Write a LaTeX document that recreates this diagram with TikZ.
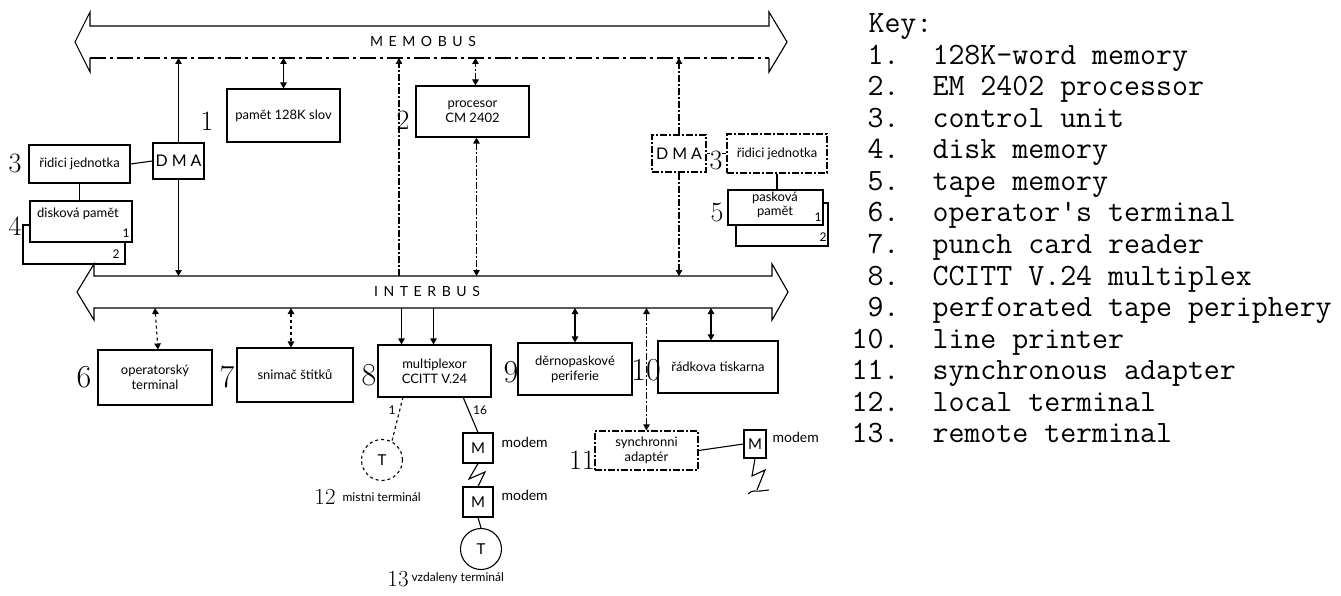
\documentclass[tikz,border=0pt]{standalone}
\usepackage{fontspec}
\setsansfont{Lato}
\newfontfamily\spacedfont[LetterSpace=40]{Lato}
\newfontfamily\dmafont[LetterSpace=25]{Lato}
\usetikzlibrary{arrows.meta}
\begin{document}
\begin{tikzpicture}[x=1pt,y=-1pt, line width=1.1pt,
  >={Triangle[length=6pt,width=6.5pt]},
  box/.style={draw, inner sep=2pt, align=center, font=\sffamily\fontsize{13}{15}\selectfont},
  dbox/.style={box, dash pattern=on 7pt off 2pt on 2pt off 2pt},
  boxtext/.style={inner sep=0pt, align=center, font=\sffamily\fontsize{13}{15}\selectfont},
  num/.style={inner sep=0pt, font=\rmfamily\fontsize{28}{28}\selectfont},
  bignum/.style={inner sep=0pt, font=\rmfamily\fontsize{32}{32}\selectfont},
  smallnum/.style={inner sep=0pt, font=\rmfamily\fontsize{23}{23}\selectfont},
  idx/.style={inner sep=0pt, font=\sffamily\fontsize{12}{12}\selectfont},
  lbl/.style={inner sep=0pt, font=\sffamily\fontsize{12}{14}\selectfont},
  modlbl/.style={inner sep=0pt, anchor=west, font=\sffamily\fontsize{14}{14}\selectfont},
  buslabel/.style={inner sep=0pt, font=\spacedfont\fontsize{14}{14}\selectfont},
  mbox/.style={draw, inner sep=0pt, minimum width=30pt, minimum height=30pt, font=\sffamily\fontsize{15}{15}\selectfont},
  tcirc/.style={draw, circle, inner sep=0pt, minimum size=41pt, font=\sffamily\fontsize{15}{15}\selectfont},
  dd/.style={dash pattern=on 7pt off 2pt on 2pt off 2pt},
  keytext/.style={inner sep=0pt, anchor=base west, font=\ttfamily\fontsize{31}{34}\selectfont},
  keynum/.style={inner sep=0pt, anchor=base east, font=\ttfamily\fontsize{31}{34}\selectfont}]
\fill[white] (0,0) rectangle (1341,596);
\useasboundingbox (0,0) rectangle (1341,596);

% ---------- buses ----------
\draw (90,58) -- (90,72) -- (75,42) -- (90,12) -- (90,26) -- (769,26) -- (769,12) -- (787,42) -- (769,72) -- (769,58);
\draw[dash pattern=on 16pt off 4pt on 3pt off 4pt] (90,58) -- (769,58);
\node[buslabel] (memobus) at (423,41) {MEMOBUS};
\draw (94,276) -- (94,264) -- (77,292) -- (94,320) -- (94,308) -- (772,308) -- (772,320) -- (788,292) -- (772,264) -- (772,276) -- cycle;
\node[buslabel] (interbus) at (427,291) {INTERBUS};
\coordinate (mbus) at (0,58);
\coordinate (ibusT) at (0,276);
\coordinate (ibusB) at (0,308);

% ---------- upper units ----------
\node[box, minimum width=113pt, minimum height=53pt] (mem) at (283.5,115.5) {pamět 128K slov};
\node[num] (n1) at (207,121) {1};
\node[box, minimum width=113pt, minimum height=51pt] (proc) at (472.5,111.5) {procesor\\CM 2402};
\node[num] (n2) at (403,120) {2};

\node[box, minimum width=51pt, minimum height=36pt, font=\dmafont\fontsize{16}{16}\selectfont] (dmaL) at (178.5,161) {DMA};
\node[box, minimum width=101pt, minimum height=38pt] (ctrlL) at (79.5,164) {řidici jednotka};
\node[num] (n3a) at (15,163) {3};
\draw (30,225) -- (23,225) -- (23,264) -- (125,264) -- (125,242);
\node[box, fill=white, minimum width=102pt, minimum height=41pt] (diskL) at (81,221.5) {};
\node[boxtext] (diskLt) at (78,214) {disková pamět};
\node[idx] (diskL1) at (126,233) {1};
\node[idx] (diskL2) at (116,254) {2};
\node[num] (n4) at (15,226) {4};

\node[dbox, minimum width=54pt, minimum height=37pt, font=\dmafont\fontsize{16}{16}\selectfont] (dmaR) at (679,153.5) {DMA};
\node[dbox, minimum width=100pt, minimum height=39pt] (ctrlR) at (777,153.5) {řidici jednotka};
\draw (dmaR.east) -- (ctrlR.west);
\node[num, fill=white] (n3b) at (716,160) {3};
\draw (736,225) -- (736,246) -- (828,246) -- (828,203) -- (823,203);
\node[box, fill=white, minimum width=95pt, minimum height=35pt] (tape) at (775.5,207.5) {};
\node[boxtext, font=\sffamily\fontsize{13}{14}\selectfont] (tapet) at (775,205) {pasková\\pamět};
\node[idx] (tape1) at (818,217) {1};
\node[idx] (tape2) at (823,237) {2};
\node[num] (n5) at (717,212) {5};

% upper connectors
\draw[<->] (mem.north) -- (mem.north |- mbus);
\coordinate (procT) at ([xshift=3pt]proc.north);
\coordinate (procB) at ([xshift=4pt]proc.south);
\draw[<->, dd] (procT) -- (procT |- mbus);
\draw[<->, dd] (procB) -- (procB |- ibusT);
\coordinate (vline) at (399,276);
\draw[->, dd] (vline) -- (vline |- mbus);
\draw[->] (dmaL.north) -- (dmaL.north |- mbus);
\draw[->] (dmaL.south) -- (dmaL.south |- ibusT);
\draw (ctrlL.east) -- (dmaL.west);
\draw (ctrlL.south) -- (ctrlL.south |- diskL.north);
\draw[->, dd] (dmaR.north) -- (dmaR.north |- mbus);
\draw[->, dd] (dmaR.south) -- (dmaR.south |- ibusT);
\draw (ctrlR.south) -- (ctrlR.south |- tape.north);

% ---------- lower units ----------
\node[box, minimum width=114pt, minimum height=55pt] (op) at (155,377.5) {operatorský\\terminal};
\node[bignum] (n6) at (84,377) {6};
\node[box, minimum width=116pt, minimum height=54pt] (snim) at (295,375) {snimač štitků};
\node[bignum] (n7) at (227,377) {7};
\node[box, minimum width=113pt, minimum height=52pt] (mux) at (434.5,371) {multiplexor\\CCITT V.24};
\node[bignum] (n8) at (369,375) {8};
\node[box, minimum width=114pt, minimum height=52pt] (derno) at (575,369) {děrnopaskové\\periferie};
\node[bignum] (n9) at (511,372) {9};
\node[box, minimum width=120pt, minimum height=52pt] (tisk) at (718,367) {řádkova tiskarna};
\node[bignum] (n10) at (646,370) {10};
\node[dbox, minimum width=103pt, minimum height=39pt] (sync) at (646.5,450.5) {synchronni\\adaptér};
\node[num] (n11) at (582,460) {11};

\draw[<->, dashed] (op.north |- ibusB) -- ([xshift=3pt]op.north);
\coordinate (snimT) at ([xshift=-4pt]snim.north);
\draw[<->, dashed] (snimT |- ibusB) -- (snimT);
\coordinate (muxa) at ([xshift=-33pt]mux.north);
\coordinate (muxb) at ([xshift=-1pt]mux.north);
\draw[->] (muxa |- ibusB) -- (muxa);
\draw[->] (muxb |- ibusB) -- (muxb);
\draw[<->] (derno.north |- ibusB) -- (derno.north);
\coordinate (tiskT) at ([xshift=-7pt]tisk.north);
\draw[<->] (tiskT |- ibusB) -- (tiskT);
\draw[<->, dd] (sync.north |- ibusB) -- (sync.north);

% terminals and modems
\coordinate (mx1) at (403,397);
\coordinate (mx16) at (463,397);
\node[tcirc, dashed] (T1) at (382,460) {T};
\node[mbox] (M1) at (478,448) {M};
\node[mbox] (M2) at (478,502) {M};
\node[tcirc] (T2) at (481,549) {T};
\node[mbox, minimum width=22pt, minimum height=28pt] (M3) at (755,444) {M};
\draw[dashed] (mx1) -- (T1.62);
\draw (mx16) -- (M1.north);
\draw (M1.south) -- (469,479) -- (485,472) -- (M2.north);
\draw (M2.south) -- (T2.north);
\draw (sync.east) -- (M3.west);
\draw (M3.south) -- (752,476) -- (765,470) -- (757,490);
\draw (748,494) .. controls (752,489) and (757,492) .. (760,491) -- (769,490);

\node[idx] (lab1) at (392,410) {1};
\node[idx] (lab16) at (480,410) {16};
\node[modlbl] (mod1) at (501,442) {modem};
\node[modlbl] (mod2) at (501,495) {modem};
\node[modlbl] (mod3) at (772,437) {modem};
\node[smallnum] (n12) at (325,497) {12};
\node[lbl, anchor=west] (mistni) at (342,497) {mistni terminál};
\node[smallnum] (n13) at (398,579) {13};
\node[lbl, anchor=west] (vzdal) at (411,578) {vzdaleny terminál};

% ---------- key ----------
\node[keytext] (key) at (868,33) {Key:};
\foreach \n/\t [count=\i] in {1./128K-word memory, 2./EM 2402 processor, 3./control unit,
  4./disk memory, 5./tape memory, 6./operator's terminal, 7./punch card reader,
  8./CCITT V.24 multiplex, 9./perforated tape periphery, 10./line printer,
  11./synchronous adapter, 12./local terminal, 13./remote terminal}{
  \node[keynum] (kn\i) at (900,{33+31.5*\i}) {\n};
  \node[keytext] (kt\i) at (932,{33+31.5*\i}) {\t};
}
\end{tikzpicture}
\end{document}
